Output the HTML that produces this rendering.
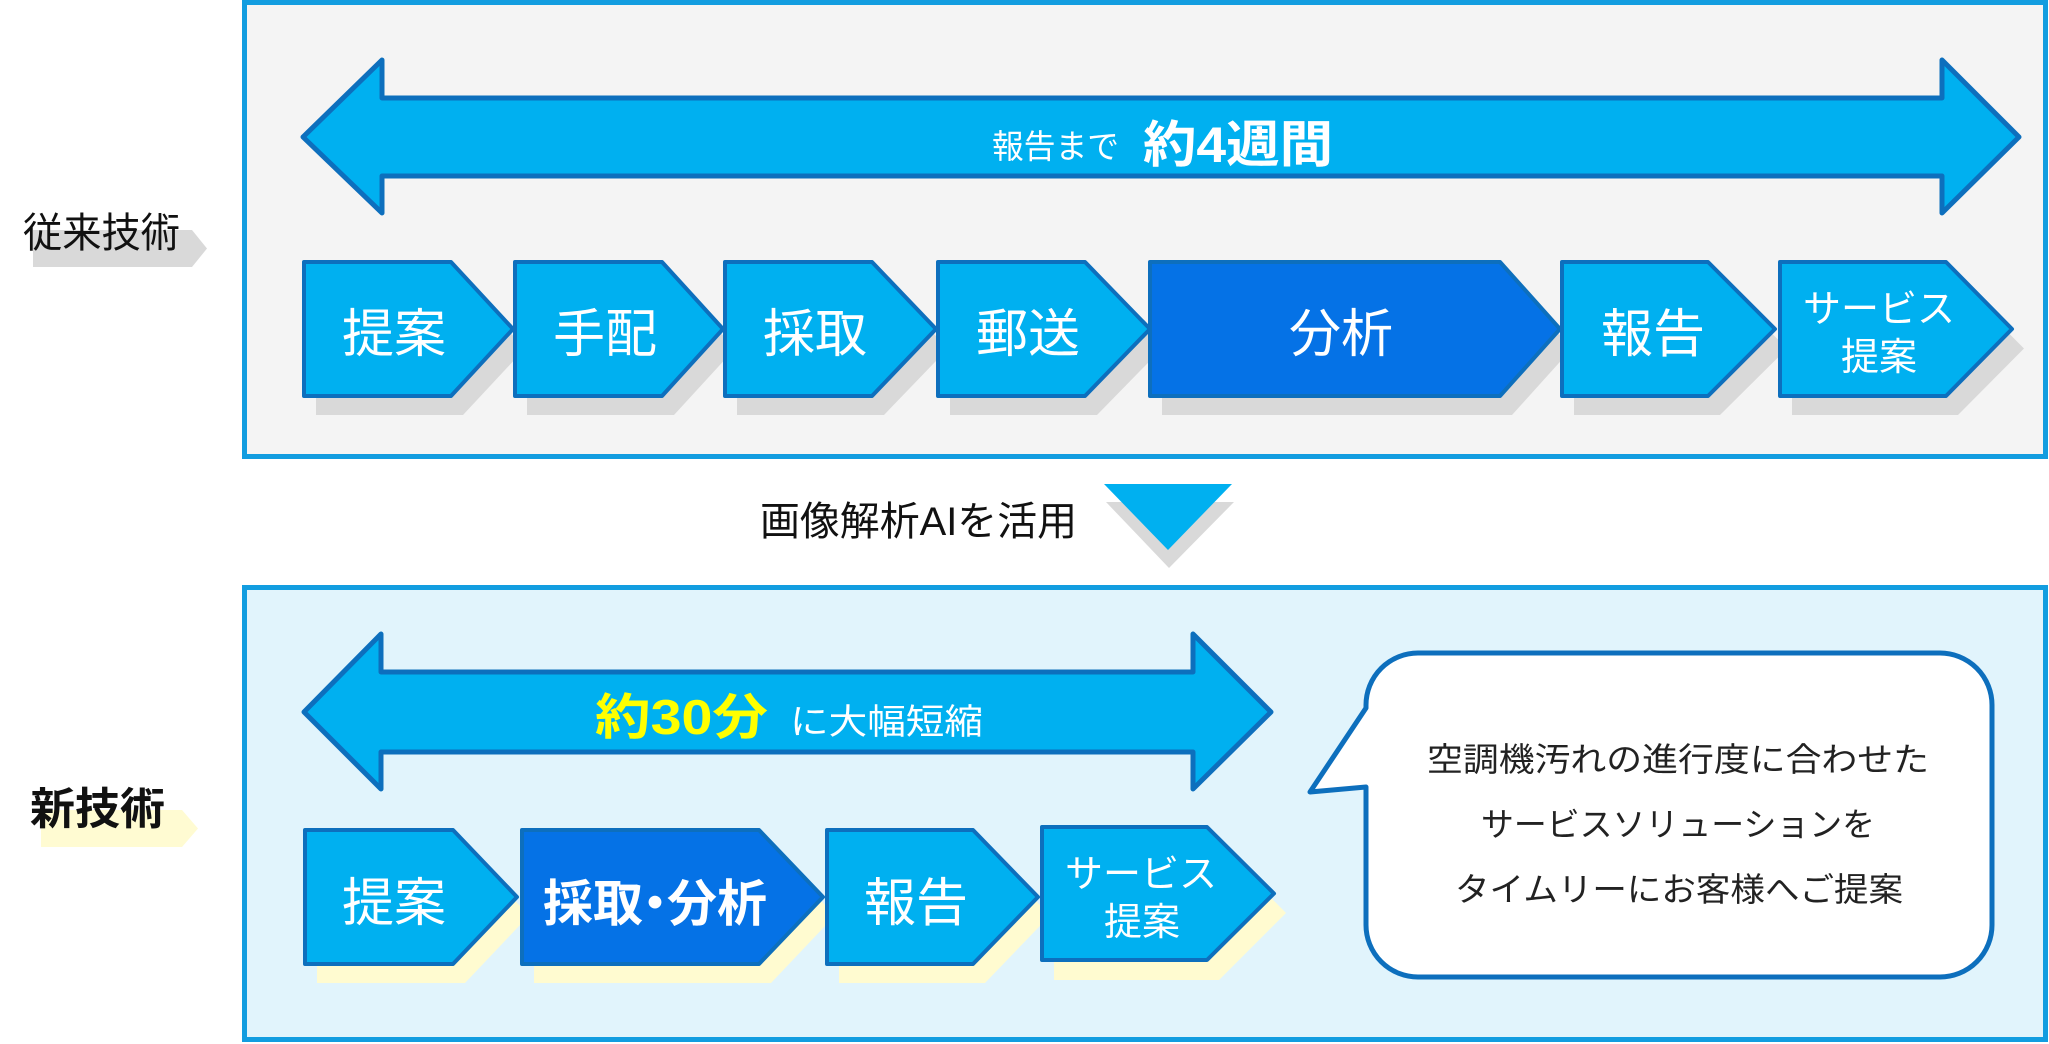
<!DOCTYPE html>
<html>
<head>
<meta charset="utf-8">
<style>
  html, body { margin:0; padding:0; background:#ffffff; }
  svg { display:block; }
  text { font-family: "Liberation Sans", "Noto Sans CJK JP", sans-serif; }
</style>
</head>
<body>
<svg width="2049" height="1044" viewBox="0 0 2049 1044" xmlns="http://www.w3.org/2000/svg">
  <rect x="0" y="0" width="2049" height="1044" fill="#ffffff"/>

  <!-- Panels -->
  <rect x="244.5" y="2.5" width="1801" height="454" fill="#f4f4f4" stroke="#129de0" stroke-width="5"/>
  <rect x="244.5" y="587.5" width="1801" height="452" fill="#e1f4fc" stroke="#129de0" stroke-width="5"/>

  <!-- Left labels -->
  <polygon points="33,230 192,230 207,248.5 192,267 33,267" fill="#d9d9d9"/>
  <text x="23" y="247" font-size="41" fill="#111" textLength="157" lengthAdjust="spacingAndGlyphs">従来技術</text>

  <polygon points="41,810 182,810 198,828.5 182,847 41,847" fill="#fffbd2"/>
  <text x="30" y="824" font-size="44" font-weight="bold" fill="#111" textLength="135" lengthAdjust="spacingAndGlyphs">新技術</text>

  <!-- Top double arrow -->
  <polygon points="303,137 382,60 382,98 1942,98 1942,60 2019,137 1942,213 1942,176 382,176 382,213"
           fill="#00b0f0" stroke="#0d6fbd" stroke-width="5" stroke-linejoin="round"/>
  <text x="992" y="158" font-size="33" fill="#ffffff" textLength="127" lengthAdjust="spacingAndGlyphs">報告まで</text>
  <text x="1143" y="162" font-size="50" font-weight="bold" fill="#ffffff" textLength="190" lengthAdjust="spacingAndGlyphs">約4週間</text>

  <!-- Top row shadows -->
  <g fill="#d9d9d9">
    <polygon points="316,282 463,282 525,348.5 463,415 316,415"/>
    <polygon points="527,282 674,282 735,348.5 674,415 527,415"/>
    <polygon points="737,282 884,282 948,348.5 884,415 737,415"/>
    <polygon points="950,282 1097,282 1162,348.5 1097,415 950,415"/>
    <polygon points="1162,282 1512,282 1572,348.5 1512,415 1162,415"/>
    <polygon points="1574,282 1720,282 1787,348.5 1720,415 1574,415"/>
    <polygon points="1792,282 1958,282 2024,348.5 1958,415 1792,415"/>
  </g>

  <!-- Top row boxes -->
  <g stroke="#0d6fbd" stroke-width="4" stroke-linejoin="round">
    <polygon points="304,262 451,262 513,329 451,396 304,396" fill="#00b0f0"/>
    <polygon points="515,262 662,262 723,329 662,396 515,396" fill="#00b0f0"/>
    <polygon points="725,262 872,262 936,329 872,396 725,396" fill="#00b0f0"/>
    <polygon points="938,262 1085,262 1150,329 1085,396 938,396" fill="#00b0f0"/>
    <polygon points="1150,262 1500,262 1560,329 1500,396 1150,396" fill="#0572e6"/>
    <polygon points="1562,262 1708,262 1775,329 1708,396 1562,396" fill="#00b0f0"/>
    <polygon points="1780,262 1946,262 2012,329 1946,396 1780,396" fill="#00b0f0"/>
  </g>
  <g font-size="52" fill="#ffffff" text-anchor="middle">
    <text x="394" y="352">提案</text>
    <text x="605" y="352">手配</text>
    <text x="815" y="352">採取</text>
    <text x="1028" y="352">郵送</text>
    <text x="1341" y="352">分析</text>
    <text x="1653" y="352">報告</text>
  </g>
  <g font-size="38" fill="#ffffff" text-anchor="middle">
    <text x="1879" y="322">サービス</text>
    <text x="1879" y="370">提案</text>
  </g>

  <!-- Middle -->
  <text x="760" y="535" font-size="40" fill="#111" textLength="317" lengthAdjust="spacingAndGlyphs">画像解析AIを活用</text>
  <polygon points="1106,502 1234,502 1169,568" fill="#d9d9d9"/>
  <polygon points="1104,484 1232,484 1168,550" fill="#00b0f0"/>

  <!-- Bottom double arrow -->
  <polygon points="304,712 381,634 381,672 1193,672 1193,634 1271,712 1193,789 1193,752 381,752 381,789"
           fill="#00b0f0" stroke="#0d6fbd" stroke-width="5" stroke-linejoin="round"/>
  <text x="595" y="734" font-size="49" font-weight="bold" fill="#ffff00" textLength="173" lengthAdjust="spacingAndGlyphs">約30分</text>
  <text x="790" y="734" font-size="35" fill="#ffffff" textLength="193" lengthAdjust="spacingAndGlyphs">に大幅短縮</text>

  <!-- Bottom row shadows -->
  <g fill="#fffbd0">
    <polygon points="317,848 465,848 529,915.5 465,983 317,983"/>
    <polygon points="534,848 771,848 835,915.5 771,983 534,983"/>
    <polygon points="839,848 985,848 1050,915.5 985,983 839,983"/>
    <polygon points="1054,845 1219,845 1286,913 1219,980 1054,980"/>
  </g>

  <!-- Bottom row boxes -->
  <g stroke="#0d6fbd" stroke-width="4" stroke-linejoin="round">
    <polygon points="305,830 453,830 517,897 453,964 305,964" fill="#00b0f0"/>
    <polygon points="522,830 759,830 823,897 759,964 522,964" fill="#0572e6"/>
    <polygon points="827,830 973,830 1038,897 973,964 827,964" fill="#00b0f0"/>
    <polygon points="1042,827 1207,827 1274,893.5 1207,960 1042,960" fill="#00b0f0"/>
  </g>
  <g font-size="52" fill="#ffffff" text-anchor="middle">
    <text x="394" y="921">提案</text>
    <text x="916" y="921">報告</text>
  </g>
  <text x="655" y="921" font-size="50" font-weight="bold" fill="#ffffff" text-anchor="middle">採取<tspan dx="-13">・</tspan><tspan dx="-13">分析</tspan></text>
  <g font-size="38" fill="#ffffff" text-anchor="middle">
    <text x="1141" y="887">サービス</text>
    <text x="1142" y="935">提案</text>
  </g>

  <!-- Speech bubble -->
  <path d="M 1418,653 H 1940 A 52 52 0 0 1 1992,705 V 925 A 52 52 0 0 1 1940,977 H 1418 A 52 52 0 0 1 1366,925 V 787 L 1310,792 L 1366,708 V 705 A 52 52 0 0 1 1418,653 Z"
        fill="#ffffff" stroke="#0d6fbd" stroke-width="5" stroke-linejoin="round"/>
  <g font-size="33" fill="#222" text-anchor="middle">
    <text x="1678" y="771" textLength="502" lengthAdjust="spacingAndGlyphs">空調機汚れの進行度に合わせた</text>
    <text x="1678" y="836" textLength="394" lengthAdjust="spacingAndGlyphs">サービスソリューションを</text>
    <text x="1679" y="901" textLength="448" lengthAdjust="spacingAndGlyphs">タイムリーにお客様へご提案</text>
  </g>
</svg>
</body>
</html>
